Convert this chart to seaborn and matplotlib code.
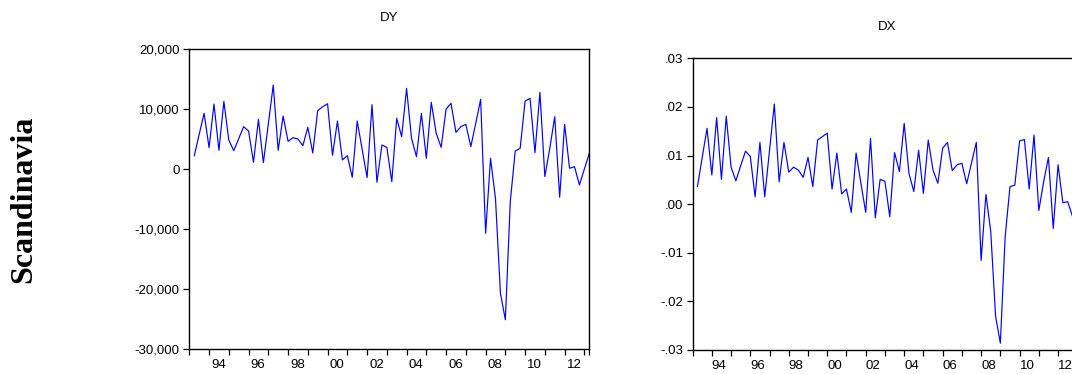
import numpy as np
import pandas as pd
import matplotlib
matplotlib.use("Agg")
import matplotlib.pyplot as plt
import seaborn as sns
from matplotlib.ticker import FuncFormatter

# ---- data (quarterly, 1993Q2 .. 2013Q2) ----
start_year = 1993
n_obs = 81
dy = [2185, 5800, 9300, 3575, 10860, 3130, 11300, 4850, 3075, 5075,
      7080, 6355, 1130, 8300, 1075, 7520, 14030, 3130, 8860, 4630,
      5240, 5020, 3910, 6970, 2690, 9750, 10410, 10910, 2300, 8020,
      1520, 2240, -1375, 8020, 3300, -1430, 10750, -2210, 4020, 3630,
      -2100, 8470, 5410, 13470, 5130, 2070, 9300, 1800, 11140, 5970,
      3630, 10020, 10970, 6130, 7080, 7470, 3740, 7630, 11640, -10720,
      1800, -4880, -20720, -25170, -5430, 3020, 3460, 11360, 11800, 2740,
      12800, -1260, 3460, 8750, -4710, 7470, 130, 400, -2650, 0, 2630]
dx = [.0036, .0096, .0156, .0060, .0178, .0051, .0181, .0076, .0048, .0079,
      .0109, .0098, .0015, .0127, .0015, .0111, .0206, .0046, .0127, .0066,
      .0076, .0070, .0055, .0096, .0036, .0132, .0139, .0146, .0031, .0105,
      .0021, .0031, -.0017, .0105, .0043, -.0017, .0135, -.0028, .0051, .0047,
      -.0026, .0106, .0067, .0166, .0063, .0026, .0111, .0022, .0132, .0070,
      .0043, .0115, .0127, .0069, .0081, .0084, .0042, .0085, .0127, -.0116,
      .0020, -.0056, -.0230, -.0286, -.0067, .0036, .0039, .0130, .0133, .0031,
      .0142, -.0013, .0046, .0096, -.0050, .0081, .0003, .0005, -.0025, .0002, .0030]
year_labels = ["94", "96", "98", "00", "02", "04", "06", "08", "10", "12"]
label_years = [1994, 1996, 1998, 2000, 2002, 2004, 2006, 2008, 2010, 2012]
dy_ticks = [-30000, -20000, -10000, 0, 10000, 20000]
dx_ticks = [-.03, -.02, -.01, .00, .01, .02, .03]
panel_titles = ["DY", "DX"]
row_label = "Scandinavia"

t = start_year + np.arange(1, n_obs + 1) / 4.0
df = pd.DataFrame({"t": t, "DY": dy, "DX": dx})

sns.set_theme(style="ticks")
plt.rcParams["font.family"] = ["Liberation Sans", "DejaVu Sans"]

W, H = 1072, 374
fig = plt.figure(figsize=(W / 100, H / 100), dpi=100)
ax1 = fig.add_axes([189.3 / W, (H - 348.7) / H, 400 / W, 299.4 / H])
ax2 = fig.add_axes([692.6 / W, (H - 350.0) / H, 389.5 / W, 291.7 / H])

for ax, col, title, ticks, fmt, hpx, loff in [
    (ax1, "DY", panel_titles[0], dy_ticks, lambda v, p: f"{v:,.0f}", 299.4, 0.48),
    (ax2, "DX", panel_titles[1], dx_ticks,
     lambda v, p: (f"{v:.2f}").replace("0.", ".") if abs(v) > 1e-9 else ".00", 291.7, 0.38),
]:
    sns.lineplot(data=df, x="t", y=col, ax=ax, color="#0000ff", linewidth=0.85)
    ax.set_xlabel("")
    ax.set_ylabel("")
    ax.set_xlim(start_year, start_year + n_obs / 4.0)
    ax.set_ylim(ticks[0], ticks[-1])
    ax.set_yticks(ticks)
    ax.yaxis.set_major_formatter(FuncFormatter(fmt))
    ax.set_xticks(list(np.arange(start_year, start_year + n_obs // 4 + 1)) + [start_year + n_obs / 4.0])
    ax.set_xticklabels([])
    ax.set_xticks([y + loff for y in label_years], minor=True)
    ax.set_xticklabels(year_labels, minor=True)
    ax.tick_params(axis="x", which="major", direction="out", length=4.0, width=0.9, color="black")
    ax.tick_params(axis="x", which="minor", length=0, pad=7.5, labelsize=9.5, labelcolor="black")
    ax.tick_params(axis="y", which="major", direction="out", length=4.3, width=0.9,
                   pad=2.5, labelsize=9.5, labelcolor="black", color="black")
    for s in ax.spines.values():
        s.set_visible(True)
        s.set_color("black")
        s.set_linewidth(1.0)
    ax.grid(False)
    ax.text(0.5, 1 + 31 / hpx, title, transform=ax.transAxes, ha="center", va="center",
            fontsize=9.5, color="black")

fig.text(23.5 / W, 1 - 199 / H, row_label, rotation=90, ha="center", va="center",
         fontsize=23, fontweight="bold", family=["Liberation Serif", "DejaVu Serif"], color="black")

fig.savefig("out.png", dpi=100)
